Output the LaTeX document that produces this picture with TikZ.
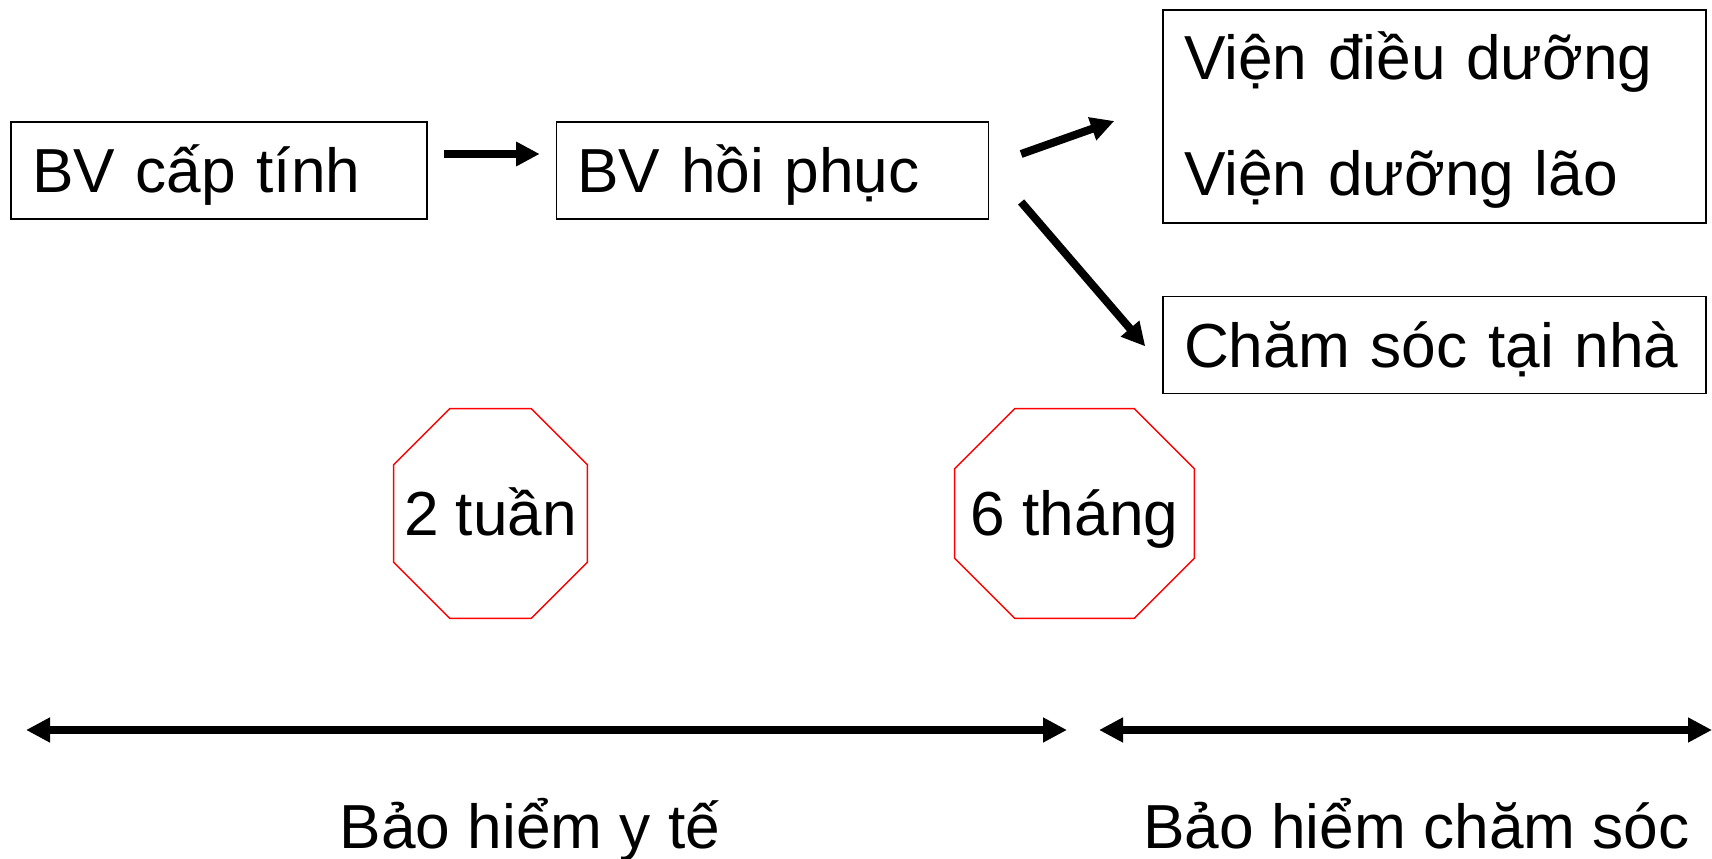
\documentclass[tikz,border=0pt]{standalone}
\usepackage{fontspec}
\setmainfont{Liberation Sans}
\usetikzlibrary{positioning,arrows.meta}

\begin{document}
\begin{tikzpicture}[boxnode/.style={rectangle, draw=black, line width=0.8pt, inner xsep=0.42cm, inner ysep=0pt, minimum height=1.94cm, align=left, font=\fontsize{35.4}{43}\selectfont},
    oneline/.style={text height=25.4pt, text depth=0pt},
    octnode/.style={inner sep=0pt, minimum height=4.18cm, font=\fontsize{35.4}{43}\selectfont, text height=25.4pt, text depth=0pt},
    fatarrow/.style={line width=0.16cm, -{Triangle[length=0.47cm, width=0.46cm]}},
    wide/.style={line width=0.16cm, {Triangle[length=0.48cm, width=0.47cm]}-{Triangle[length=0.48cm, width=0.47cm]}},]
    \useasboundingbox (0,0) rectangle (34.24,17.18);
    % nodes
    \node[boxnode, oneline, text width=7.48cm]     (BV1)  at (4.38,13.77)        {BV cấp tính};
    \node[boxnode, oneline, text width=7.80cm]     (BV2)  [right=2.56cm of BV1]  {BV hồi phục};
    \node[boxnode, text width=10.02cm, minimum height=4.26cm, text height=31pt, text depth=73pt, font=\fontsize{35.4}{66}\selectfont] (VD) at (28.69,14.85) {Viện điều dưỡng\\Viện dưỡng lão};
    \node[boxnode, oneline, text width=10.02cm]    (CS)   [below=1.44cm of VD]   {Chăm sóc tại nhà};
    \node[octnode, minimum width=3.86cm]           (O2)   at (9.81,6.91)         {2 tuần};
    \node[octnode, minimum width=4.78cm]           (O6)   at (21.49,6.91)        {6 tháng};
    \node[anchor=base, font=\fontsize{35.4}{43}\selectfont] (BH1) at (10.6,0.2)   {Bảo hiểm y tế};
    \node[anchor=base, font=\fontsize{35.4}{43}\selectfont] (BH2) at (28.33,0.2)  {Bảo hiểm chăm sóc};
    \coordinate (L1) at (0.52,2.58);
    \coordinate (R1) at (21.34,2.58);
    \coordinate (L2) at (21.98,2.58);
    \coordinate (R2) at (34.24,2.58);
    % octagons
    \foreach \o/\c in {O2/1.12, O6/1.2}
        \draw[red, line width=0.8pt] ([xshift=\c cm]\o.north west) -- ([xshift=-\c cm]\o.north east) -- ([yshift=-\c cm]\o.north east) -- ([yshift=\c cm]\o.south east) -- ([xshift=-\c cm]\o.south east) -- ([xshift=\c cm]\o.south west) -- ([yshift=\c cm]\o.south west) -- ([yshift=-\c cm]\o.north west) -- cycle;
    % lines
    \draw[fatarrow] ([shift={(0.32,0.33)}]BV1.east) -- ([shift={(-0.32,0.33)}]BV2.west);
    \draw[fatarrow] ([shift={(0.64,0.33)}]BV2.east) -- ([shift={(-0.96,-0.09)}]VD.west);
    \draw[fatarrow] ([shift={(0.64,-0.63)}]BV2.east) -- ([shift={(-0.34,-0.03)}]CS.west);
    \draw[wide] (L1) -- (R1);
    \draw[wide] (L2) -- (R2);
\end{tikzpicture}
\end{document}
